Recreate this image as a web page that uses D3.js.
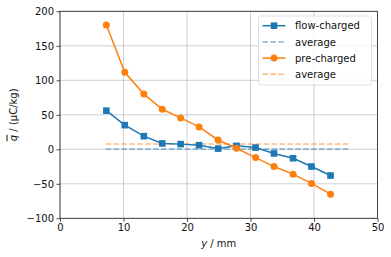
<!DOCTYPE html>
<html lang="en">
<head>
<meta charset="UTF-8">
<title>charge</title>
<script src="https://d3js.org/d3.v7.min.js"></script>
<style>
  body { margin: 0; background: #fff; }
  text { font-family: "DejaVu Sans", sans-serif; }
</style>
</head>
<body>
<svg id="chart"></svg>
<script>
// data
const yPos = [7.3, 10.2, 13.2, 16.1, 19.0, 21.9, 24.9, 27.8, 30.8, 33.7, 36.7, 39.6, 42.6];
const flowCharged = [56, 35, 19, 8.5, 7.5, 6, 1, 5, 2.5, -6, -13, -25, -38];
const preCharged = [180, 111.5, 80, 58, 45.5, 32.5, 13.5, 1.5, -12, -25, -36, -49.5, -65];
const avgRange = [7.2, 45.4];
const flowAvg = 0.5;
const preAvg = 7.8;
const xTicks = [0, 10, 20, 30, 40, 50];
const yTicks = [-100, -50, 0, 50, 100, 150, 200];

const W = 391, H = 257;
const m = {l: 60, r: 13.5, t: 11.3, b: 38.7};
const blue = '#1f77b4', orange = '#ff7f0e';

const svg = d3.select('#chart').attr('width', W).attr('height', H);

const x = d3.scaleLinear().domain([0, 50]).range([m.l, W - m.r]);
const y = d3.scaleLinear().domain([-100, 200]).range([H - m.b, m.t]);

// grid
svg.append('g').selectAll('line.gx').data(xTicks).join('line')
    .attr('x1', d => x(d)).attr('x2', d => x(d))
    .attr('y1', y(-100)).attr('y2', y(200))
    .attr('stroke', '#b0b0b0').attr('stroke-width', 0.8).attr('opacity', 0.75);
svg.append('g').selectAll('line.gy').data(yTicks).join('line')
    .attr('y1', d => y(d)).attr('y2', d => y(d))
    .attr('x1', x(0)).attr('x2', x(50))
    .attr('stroke', '#b0b0b0').attr('stroke-width', 0.8).attr('opacity', 0.75);

// axes
const xAxis = svg.append('g').attr('transform', `translate(0,${y(-100)})`)
    .call(d3.axisBottom(x).tickValues(xTicks).tickSize(3.5).tickPadding(2.5).tickFormat(d3.format('d')));
const yAxis = svg.append('g').attr('transform', `translate(${x(0)},0)`)
    .call(d3.axisLeft(y).tickValues(yTicks).tickSize(3.5).tickPadding(2.5)
        .tickFormat(d => d < 0 ? '\u2212' + Math.abs(d) : d));
[xAxis, yAxis].forEach(a => {
    a.select('.domain').remove();
    a.selectAll('line').attr('stroke', '#222').attr('stroke-width', 0.8);
    a.selectAll('text').attr('font-size', 10).attr('fill', '#111')
        .attr('font-family', '"DejaVu Sans", sans-serif');
});

// frame
svg.append('rect').attr('x', x(0)).attr('y', y(200))
    .attr('width', x(50) - x(0)).attr('height', y(-100) - y(200))
    .attr('fill', 'none').attr('stroke', '#222').attr('stroke-width', 0.8);

// averages
const dash = (val, col) => svg.append('line')
    .attr('x1', x(avgRange[0])).attr('x2', x(avgRange[1]))
    .attr('y1', y(val)).attr('y2', y(val))
    .attr('stroke', col).attr('stroke-width', 1.5).attr('stroke-opacity', 0.55)
    .attr('stroke-dasharray', '5.5,2.4');
dash(preAvg, orange);
dash(flowAvg, blue);

const line = d3.line().x(d => x(d[0])).y(d => y(d[1]));

// flow-charged
const fData = yPos.map((v, i) => [v, flowCharged[i]]);
svg.append('path').datum(fData).attr('d', line)
    .attr('fill', 'none').attr('stroke', blue).attr('stroke-width', 1.5);
svg.append('g').selectAll('rect').data(fData).join('rect')
    .attr('x', d => x(d[0]) - 3.3).attr('y', d => y(d[1]) - 3.3)
    .attr('width', 6.6).attr('height', 6.6).attr('fill', blue);

// pre-charged
const pData = yPos.map((v, i) => [v, preCharged[i]]);
svg.append('path').datum(pData).attr('d', line)
    .attr('fill', 'none').attr('stroke', orange).attr('stroke-width', 1.5);
svg.append('g').selectAll('circle').data(pData).join('circle')
    .attr('cx', d => x(d[0])).attr('cy', d => y(d[1])).attr('r', 3.5).attr('fill', orange);

// axis labels
const xl = svg.append('text').attr('x', x(25)).attr('y', 247)
    .attr('text-anchor', 'middle').attr('font-size', 10).attr('fill', '#111');
xl.append('tspan').attr('font-style', 'italic').text('y');
xl.append('tspan').text(' / mm');

const yl = svg.append('text')
    .attr('transform', `translate(16.5,${y(50)}) rotate(-90)`)
    .attr('text-anchor', 'middle').attr('font-size', 10).attr('fill', '#111');
yl.append('tspan').attr('font-style', 'italic').attr('text-decoration', 'overline').text('q');
yl.append('tspan').text(' / (\u00b5C/kg)');

// legend
const legendItems = [
    {label: 'flow-charged', color: blue, marker: 'square', dashed: false},
    {label: 'average', color: blue, marker: null, dashed: true},
    {label: 'pre-charged', color: orange, marker: 'circle', dashed: false},
    {label: 'average', color: orange, marker: null, dashed: true}
];
const lg = svg.append('g');
lg.append('rect').attr('x', 258.5).attr('y', 16).attr('width', 113).attr('height', 69).attr('rx', 2)
    .attr('fill', '#fff').attr('fill-opacity', 0.8).attr('stroke', '#d8d8d8').attr('stroke-width', 0.8);
legendItems.forEach((it, i) => {
    const cy = 25.7 + i * 16.2;
    lg.append('line').attr('x1', 262.5).attr('x2', 285.5).attr('y1', cy).attr('y2', cy)
        .attr('stroke', it.color).attr('stroke-width', 1.5)
        .attr('stroke-opacity', it.dashed ? 0.55 : 1)
        .attr('stroke-dasharray', it.dashed ? '5.5,2.4' : null);
    if (it.marker === 'square')
        lg.append('rect').attr('x', 274 - 3.3).attr('y', cy - 3.3).attr('width', 6.6).attr('height', 6.6).attr('fill', it.color);
    if (it.marker === 'circle')
        lg.append('circle').attr('cx', 274).attr('cy', cy).attr('r', 3.5).attr('fill', it.color);
    lg.append('text').attr('x', 295).attr('y', cy + 3.6).attr('font-size', 10).attr('fill', '#111').text(it.label);
});
</script>
</body>
</html>
